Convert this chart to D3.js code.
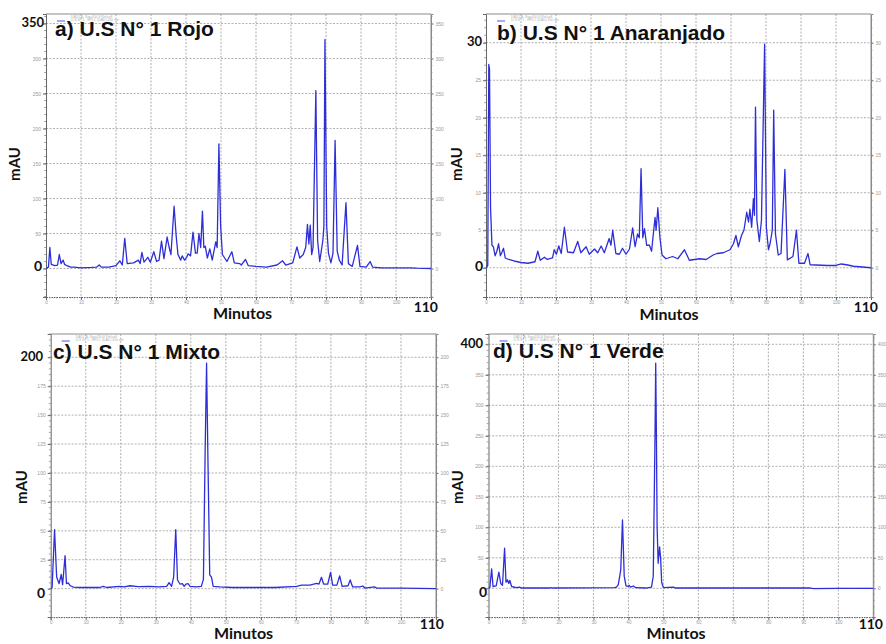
<!DOCTYPE html>
<html><head><meta charset="utf-8">
<script src="https://cdn.jsdelivr.net/npm/d3@7"></script>
<style>body{margin:0;background:#fff}svg{display:block}</style>
</head><body><svg id="c" width="886" height="644"></svg>
<script>
// ---------- data ----------
const xTicks = [0,10,20,30,40,50,60,70,80,90,100,110];

const rojoTicks = [0,50,100,150,200,250,300,350];
const rojoMin = [0,0.7,1.1,1.5,2.5,3.3,3.8,4.3,4.9,5.3,6,7,8,10,13,14.5,15.2,15.8,18,20,21.1,21.8,22.5,23.2,25,26.4,26.9,27.4,28,29.1,29.8,30.8,31.6,32.3,33,33.7,34.6,35.2,35.7,36.6,37.2,37.7,38.5,38.9,39.6,40.2,40.6,41.3,42,42.7,43.2,43.7,44.2,44.7,45.1,45.5,46.1,46.8,47.5,48.5,48.9,49.4,49.9,50.4,51.7,53.1,53.8,55.3,55.8,57,57.8,60,63,66,67.6,68.5,70.5,71.7,72.5,73.5,74.2,74.7,75.1,75.5,75.9,76.3,77.1,77.6,78.2,79.1,79.4,79.7,80.2,80.7,81.4,82,82.6,83.2,83.8,84.6,85.7,86.4,87.5,89,89.7,91.5,92.6,93.3,96,100,104,106,110];
const rojoMAU = [0,2,30,6,4,5,20,7,12,6,4,2,2,1,1.5,2,5,2,2,4,11,5,43,7,8,12,7,23,9,16,9,24,10,12,39,14,45,30,20,89,46,20,12,18,12,16,21,18,52,22,22,50,30,82,30,32,15,28,12,38,30,178,60,20,10,24,8,7,5,13,4,3,2,5,11,5,8,31,15,20,30,63,35,62,20,30,254,40,10,40,60,327,60,22,8,22,183,25,12,5,94,7,3,33,3,2,10,2,1,1,1,0.5,0];

const anaTicks = [0,5,10,15,20,25,30];
const anaMin = [0,0.5,0.8,1.0,1.3,1.7,2.1,2.6,3.1,3.6,4.1,4.5,5.0,5.5,6.5,8,10,12,14,14.8,15.5,16.7,17.5,19,19.5,20.1,20.8,21.5,22.4,23.3,25,26.2,27.1,28.6,29.5,31,31.9,32.9,33.8,35.2,35.7,36.2,37.1,38.1,39,40,41,41.9,42.6,43.3,43.8,44.3,44.8,45.3,45.9,46.7,47.3,48.3,48.6,49.1,49.7,50.3,51.4,53.3,54.8,56.7,58.1,61,62.9,64.9,66,67.8,69.7,70.7,71.4,72.1,73,73.7,74.5,75.0,75.4,75.9,76.4,76.7,77.0,77.4,78.1,78.7,79.6,80.1,80.7,81.2,81.8,82.2,82.7,83.5,84.3,85.4,86.1,87.7,88.7,89.4,91,92,92.6,97.6,100,101.5,103,105,110];
const anaMAU = [0,0.3,27.1,26.5,8,3,2.8,1.6,2.2,3.2,1.6,2.0,2.6,1.3,1.1,0.9,0.7,0.6,0.8,2.2,1.0,1.4,1.1,1.3,2.4,1.8,2.9,1.9,5.4,2.1,2.0,3.5,2.0,2.8,1.8,2.5,2.0,2.9,2.0,3.9,3.0,5.0,1.9,1.8,2.6,1.8,2.5,5.3,2.8,4.5,4.0,13.2,4.0,5.2,3.0,3.0,2.2,6.7,5.0,8.0,4.0,1.7,1.2,1.5,1.2,2.4,1.0,1.2,1.1,1.7,1.9,2.0,2.4,3.2,4.3,2.8,4.3,5.0,7.4,6.1,7.8,5.4,9.2,7,21.4,6.3,3.5,6.3,29.8,5.4,2.4,3.3,5.0,21.0,4.5,1.7,1.9,13.1,1.05,1.5,5.0,0.6,0.6,1.9,0.4,0.3,0.3,0.5,0.4,0.2,0];

const mixtoTicks = [0,25,50,75,100,125,150,175,200];
const mixtoMin = [0,0.4,1.1,1.7,2.4,3.0,3.4,4.1,4.5,5.0,5.6,6.5,8.3,14,15,16,19.7,21,22.6,25,28.3,31,33.1,33.8,34.5,35.1,35.7,36.2,36.9,37.6,38.1,38.6,39.2,39.8,41.6,43,43.6,44.1,44.5,44.9,45.4,45.9,46.4,48.3,52,57.8,64,70.2,71.6,74,75.9,76.6,77.3,77.9,79.1,79.9,80.5,81.7,82.5,83.2,84.9,85.5,86.2,88.3,89.1,89.7,92.4,93.1,100,110];
const mixtoMAU = [0,1,51,10,4.3,12.4,3.4,28.5,4.3,5,2.5,1.4,1,1,2,1,2,1.5,2.5,1.8,2,1.5,2,5.2,2,10,51,7.5,4,4.3,2,4,4.3,2,1.5,2,8,120,195,110,12,10,2,1.5,1,1,1,2,3,3,4.5,4,9.8,4,4,14,3,3,11,2,2.5,7.5,1.5,1.5,2.3,0.5,1.5,0.5,0.5,0];

const verdeTicks = [0,50,100,150,200,250,300,350,400];
const verdeMin = [0,0.4,0.9,1.3,2.2,2.96,3.5,4.0,4.6,5.0,5.4,5.8,6.1,6.6,7.9,8.9,9.4,17.5,17.9,18.4,28,36,36.6,37.1,37.8,38.3,38.8,39.3,39.9,40.2,40.6,41.4,42.1,45,46.6,47.1,47.6,47.8,48.0,48.2,48.5,48.9,49.2,49.5,50,52.9,53.4,92,93,100,110];
const verdeMAU = [0,2,32,3,4,26.6,8,5,66,10,14,8,13,3,1,2,0.5,0.5,1,0.5,0.8,1,2,6,30,112,20,4,3,4.9,2,3.8,1,0.5,2,20,250,369,250,100,41,68,50,10,1,2,0.5,0.5,-0.5,0,0];

// ---------- layout ----------
const panels = [
  {title:"a) U.S N° 1 Rojo", t:rojoMin, v:rojoMAU, ticks:rojoTicks, minor:10, top:"350",
   dom:[-40.7,363.6], box:{l:46,r:431,t:14,b:297},
   titleXY:[55,36], topR:44, zeroR:42, zeroDy:-2.5, x110:[438,312], minutos:[242.5,319], mau:[15,164]},
  {title:"b) U.S N° 1 Anaranjado", t:anaMin, v:anaMAU, ticks:anaTicks, minor:1, top:"30",
   dom:[-3.9,33.83], box:{l:486,r:871,t:14,b:297},
   titleXY:[497,40], topR:482, zeroR:483, zeroDy:-1.5, x110:[878,312], minutos:[669,320], mau:[457,164]},
  {title:"c) U.S N° 1 Mixto", t:mixtoMin, v:mixtoMAU, ticks:mixtoTicks, minor:5, top:"200",
   dom:[-24.5,220.1], box:{l:50.7,r:436,t:334,b:617},
   titleXY:[53,359], topR:43, zeroR:45, zeroDy:4, x110:[444,629], minutos:[243.5,639], mau:[22,487]},
  {title:"d) U.S N° 1 Verde", t:verdeMin, v:verdeMAU, ticks:verdeTicks, minor:10, top:"400",
   dom:[-47,416.9], box:{l:488.5,r:873.3,t:334,b:617},
   titleXY:[493,358], topR:483, zeroR:487, zeroDy:4, x110:[883,629], minutos:[676,639], mau:[458,487]}
];

const svg = d3.select("#c");
const BIG = "Lato, 'Open Sans', sans-serif";
const TITLE = "'Liberation Sans', Arial, sans-serif";

panels.forEach((p, i) => {
  const B = p.box;
  const x = d3.scaleLinear().domain([0,110]).range([B.l, B.r]);
  const y = d3.scaleLinear().domain(p.dom).range([B.b, B.t]);
  const g = svg.append("g");

  // grid
  g.selectAll(".vg").data(xTicks.filter(d => d > 0 && d < 110)).enter().append("line")
    .attr("x1", d => x(d)).attr("x2", d => x(d)).attr("y1", B.t).attr("y2", B.b)
    .attr("stroke", "#9a9a9a").attr("stroke-width", 0.8).attr("stroke-dasharray", "2,1.5");
  g.selectAll(".hg").data(p.ticks).enter().append("line")
    .attr("x1", B.l).attr("x2", B.r).attr("y1", d => y(d)).attr("y2", d => y(d))
    .attr("stroke", "#9a9a9a").attr("stroke-width", 0.8).attr("stroke-dasharray", "2,1.5");

  // frame
  g.append("line").attr("x1", B.l).attr("x2", B.r).attr("y1", B.t).attr("y2", B.t)
    .attr("stroke", "#8a8a8a").attr("stroke-width", 1);
  g.append("line").attr("x1", B.r).attr("x2", B.r).attr("y1", B.t).attr("y2", B.b)
    .attr("stroke", "#8a8a8a").attr("stroke-width", 1);

  const minorVals = d3.range(Math.ceil(p.dom[0] / p.minor) * p.minor, p.dom[1], p.minor);
  const xMinor = d3.range(0, 110.01, 1);

  // left axis
  const la = g.append("g").attr("transform", `translate(${B.l},0)`)
    .call(d3.axisLeft(y).tickValues(p.ticks).tickSize(3).tickPadding(2).tickFormat(d => (d === 0 || String(d) === p.top) ? "" : d));
  la.select(".domain").attr("stroke", "#666");
  la.selectAll(".tick line").attr("stroke", "#666");
  la.selectAll("text").attr("font-size", 5).attr("fill", "#999").attr("font-family", "Arial");
  g.selectAll(".lm").data(minorVals).enter().append("line")
    .attr("x1", B.l - 1.8).attr("x2", B.l).attr("y1", d => y(d)).attr("y2", d => y(d))
    .attr("stroke", "#777").attr("stroke-width", 0.7);

  // right axis
  const ra = g.append("g").attr("transform", `translate(${B.r},0)`)
    .call(d3.axisRight(y).tickValues(p.ticks).tickSize(2.5).tickPadding(2));
  ra.select(".domain").attr("stroke", "#8a8a8a");
  ra.selectAll(".tick line").attr("stroke", "#777");
  ra.selectAll("text").attr("font-size", 5).attr("fill", "#999").attr("font-family", "Arial");
  g.selectAll(".rm").data(minorVals).enter().append("line")
    .attr("x1", B.r).attr("x2", B.r + 1.5).attr("y1", d => y(d)).attr("y2", d => y(d))
    .attr("stroke", "#888").attr("stroke-width", 0.6);

  // bottom axis (the 110 small label is hidden under the large "110")
  const ba = g.append("g").attr("transform", `translate(0,${B.b})`)
    .call(d3.axisBottom(x).tickValues(xTicks).tickSize(3).tickPadding(1).tickFormat(d => d === 110 ? "" : d));
  ba.select(".domain").attr("stroke", "#666").attr("stroke-dasharray", "1.5,1");
  ba.selectAll(".tick line").attr("stroke", "#666");
  ba.selectAll("text").attr("font-size", 4.6).attr("fill", "#999").attr("font-family", "Arial");
  g.selectAll(".bm").data(xMinor).enter().append("line")
    .attr("x1", d => x(d)).attr("x2", d => x(d)).attr("y1", B.b).attr("y2", B.b + 1.5)
    .attr("stroke", "#777").attr("stroke-width", 0.6);

  // trace
  const clipId = "clip" + i;
  svg.append("clipPath").attr("id", clipId).append("rect")
    .attr("x", B.l).attr("y", B.t).attr("width", B.r - B.l).attr("height", B.b - B.t);
  const pts = p.t.map((t, k) => [t, p.v[k]]);
  g.append("path").datum(pts)
    .attr("clip-path", `url(#${clipId})`)
    .attr("fill", "none").attr("stroke", "#2e2ed8").attr("stroke-width", 1.3)
    .attr("stroke-linejoin", "round")
    .attr("d", d3.line().x(d => x(d[0])).y(d => y(d[1])));

  // mini legend (faint, top-left inside the plot)
  g.append("line").attr("x1", B.l + 11).attr("x2", B.l + 19).attr("y1", B.t + 7).attr("y2", B.t + 7)
    .attr("stroke", "#5555dd").attr("stroke-width", 1);
  g.append("text").attr("x", B.l + 25).attr("y", B.t + 3.6).text("DAD1 A, Sig=450,8 Ref=off")
    .attr("font-size", 3.4).attr("fill", "#b0b0b0").attr("font-family", "Arial");
  g.append("text").attr("x", B.l + 25).attr("y", B.t + 7.3).text("U.S N° 1 - HPLC (DAD) 450 nm")
    .attr("font-size", 3.4).attr("fill", "#b0b0b0").attr("font-family", "Arial");

  // big labels
  g.append("text").attr("x", p.titleXY[0]).attr("y", p.titleXY[1]).text(p.title)
    .attr("font-family", TITLE).attr("font-weight", "bold").attr("font-size", 21).attr("fill", "#111");
  g.append("text").attr("x", p.topR).attr("y", y(+p.top) - 1).attr("dy", "0.35em")
    .attr("text-anchor", "end").text(p.top)
    .attr("font-family", BIG).attr("font-weight", "bold").attr("font-size", 13).attr("fill", "#111");
  g.append("text").attr("x", p.zeroR).attr("y", y(0) + p.zeroDy).attr("dy", "0.35em")
    .attr("text-anchor", "end").text("0")
    .attr("font-family", BIG).attr("font-weight", "bold").attr("font-size", 14).attr("fill", "#111");
  g.append("text").attr("x", p.x110[0]).attr("y", p.x110[1]).attr("text-anchor", "end").text("110")
    .attr("font-family", BIG).attr("font-weight", "bold").attr("font-size", 14).attr("fill", "#111");
  g.append("text").attr("x", p.minutos[0]).attr("y", p.minutos[1]).attr("text-anchor", "middle").text("Minutos")
    .attr("font-family", BIG).attr("font-weight", "bold").attr("font-size", 16).attr("fill", "#111");
  g.append("text").attr("transform", `translate(${p.mau[0]},${p.mau[1]}) rotate(-90)`)
    .attr("text-anchor", "middle").attr("dy", "0.35em").text("mAU")
    .attr("font-family", BIG).attr("font-weight", "bold").attr("font-size", 15).attr("fill", "#111");
});
</script>
</body></html>
